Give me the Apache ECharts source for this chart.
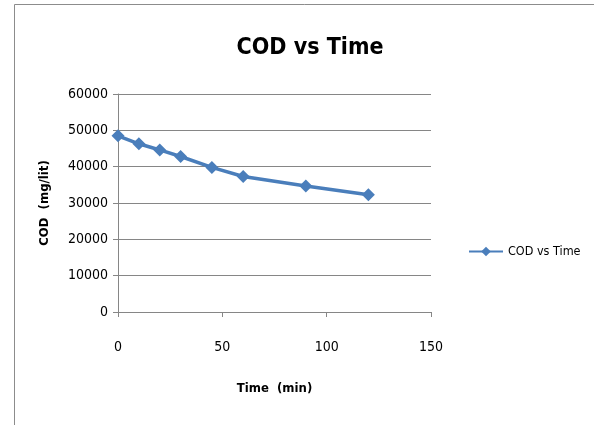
<!DOCTYPE html>
<html>
<head>
<meta charset="utf-8">
<script src="https://cdn.jsdelivr.net/npm/echarts@6/dist/echarts.min.js"></script>
<style>
html,body{margin:0;padding:0;background:#fff;}
#c{width:594px;height:425px;}
</style>
</head>
<body>
<div id="c"></div>
<script>
var timeMin = [0, 10, 20, 30, 45, 60, 90, 120];
var codValues = [48500, 46300, 44600, 42800, 39800, 37300, 34700, 32300];
var xTicks = [0, 50, 100, 150];
var yTicks = [0, 10000, 20000, 30000, 40000, 50000, 60000];
var seriesName = 'COD vs Time';

var FONT = '"DejaVu Sans Condensed", "Liberation Sans Narrow", "Noto Sans", sans-serif';
var chart = echarts.init(document.getElementById('c'), null, {renderer: 'canvas'});
var data = timeMin.map(function (t, i) { return [t, codValues[i]]; });

chart.setOption({
  backgroundColor: '#fff',
  animation: false,
  graphic: [{
    type: 'rect',
    shape: {x: 14.5, y: 4.5, width: 600, height: 430},
    style: {fill: 'none', stroke: '#8c8c8c', lineWidth: 1}
  }],
  title: {
    text: 'COD vs Time',
    left: 305, top: 32, textAlign: 'center',
    textStyle: {fontFamily: FONT, fontSize: 23, fontWeight: 'bold', color: '#000'}
  },
  legend: {
    data: [seriesName],
    left: 463, top: 240,
    itemWidth: 34, itemHeight: 12, itemGap: 3,
    textStyle: {fontFamily: FONT, fontSize: 12.5, color: '#000'}
  },
  grid: {left: 118, right: 163, top: 94, bottom: 113},
  xAxis: {
    type: 'value', min: xTicks[0], max: xTicks[xTicks.length - 1], interval: 50,
    name: 'Time  (min)', nameLocation: 'middle', nameGap: 70,
    nameTextStyle: {fontFamily: FONT, fontSize: 13, fontWeight: 'bold', color: '#000'},
    axisLine: {show: true, lineStyle: {color: '#868686'}},
    axisTick: {show: true, length: 5, lineStyle: {color: '#868686'}},
    axisLabel: {margin: 28, fontFamily: FONT, fontSize: 14, color: '#000'},
    splitLine: {show: false}
  },
  yAxis: {
    type: 'value', min: yTicks[0], max: yTicks[yTicks.length - 1], interval: 10000,
    name: 'COD  (mg/lit)', nameLocation: 'middle', nameGap: 67, nameRotate: 90,
    nameTextStyle: {fontFamily: FONT, fontSize: 13, fontWeight: 'bold', color: '#000'},
    axisLine: {show: true, lineStyle: {color: '#868686'}},
    axisTick: {show: true, inside: false, length: 5, lineStyle: {color: '#868686'}},
    axisLabel: {margin: 10, fontFamily: FONT, fontSize: 14, color: '#000',
      formatter: function (v) { return String(v); }},
    splitLine: {show: true, lineStyle: {color: '#868686', width: 1}}
  },
  series: [{
    name: seriesName,
    type: 'line',
    data: data,
    symbol: 'diamond',
    symbolSize: 13,
    itemStyle: {color: '#4a7ebb'},
    lineStyle: {color: '#4a7ebb', width: 3.5}
  }]
});
</script>
</body>
</html>
